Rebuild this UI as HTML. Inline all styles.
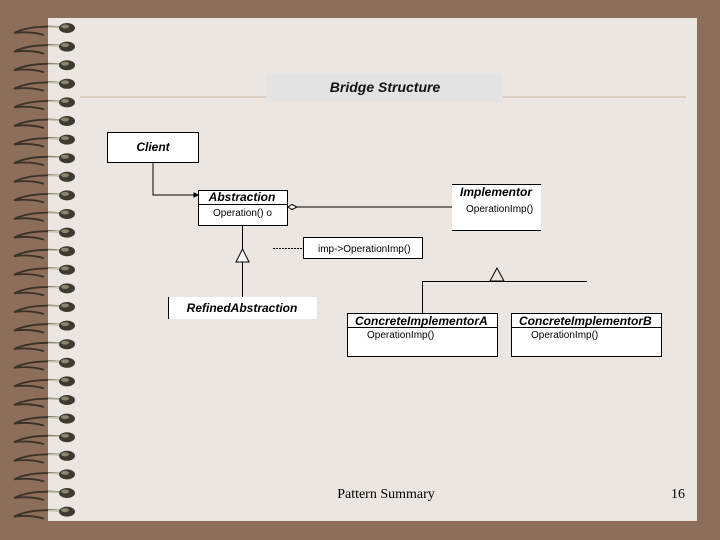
<!DOCTYPE html>
<html><head><style>
html,body{margin:0;padding:0;width:720px;height:540px;overflow:hidden;background:#8d6e5b;}
</style></head><body>
<svg width="720" height="540" xmlns="http://www.w3.org/2000/svg" style="position:absolute;left:0;top:0">
<rect x="0" y="0" width="720" height="540" fill="#8d6e5b"/>
<rect x="48" y="18" width="649" height="503" fill="#ebe6e1"/>
<g id="rings">
</g>
<rect x="266" y="73" width="237" height="29" fill="#e3e3e3"/>
<line x1="80" y1="97" x2="266" y2="97" stroke="#c9b89a" stroke-width="1"/>
<line x1="503" y1="97" x2="686" y2="97" stroke="#c9b89a" stroke-width="1"/>
<text x="385" y="92" font-family="Liberation Sans, sans-serif" font-size="14" font-weight="bold" font-style="italic" text-anchor="middle" fill="#111">Bridge Structure</text>

<g stroke="#000" stroke-width="1" fill="none" font-family="Liberation Sans, sans-serif">
<rect x="107.5" y="132.5" width="91" height="30" fill="#fff"/>
<text x="153" y="151" font-size="12" font-weight="bold" font-style="italic" text-anchor="middle" fill="#000" stroke="none">Client</text>
<polyline points="153,162 153,195 198,195"/>
<path d="M194,193 L198,195 L194,197Z" fill="#000"/>
<rect x="198.5" y="190.5" width="89" height="35" fill="#fff"/>
<line x1="198" y1="204.5" x2="288" y2="204.5"/>
<text x="242" y="201" font-size="12" font-weight="bold" font-style="italic" text-anchor="middle" fill="#000" stroke="none">Abstraction</text>
<text x="213" y="216" font-size="10" fill="#000" stroke="none">Operation() o</text>
<path d="M288,207 L292,204.5 L297,207 L292,209.5Z" fill="#fff"/>
<line x1="297" y1="207" x2="452" y2="207"/>
<rect x="452" y="184" width="89" height="46" fill="#fff" stroke="none"/>
<line x1="452" y1="184.5" x2="541" y2="184.5"/>
<line x1="452" y1="230.5" x2="541" y2="230.5"/>
<text x="460" y="196" font-size="12" font-weight="bold" font-style="italic" fill="#000" stroke="none">Implementor</text>
<text x="466" y="212" font-size="10" fill="#000" stroke="none">OperationImp()</text>
<line x1="242.5" y1="226" x2="242.5" y2="249"/>
<path d="M242.5,249 L236,262 L249,262Z" fill="#fff"/>
<line x1="242.5" y1="262" x2="242.5" y2="297"/>
<rect x="168" y="297" width="149" height="22" fill="#fff" stroke="none"/>
<line x1="168.5" y1="297" x2="168.5" y2="319"/>
<text x="242" y="312" font-size="12" font-weight="bold" font-style="italic" text-anchor="middle" fill="#000" stroke="none">RefinedAbstraction</text>
<line x1="273" y1="248.5" x2="303" y2="248.5" stroke-dasharray="2,1"/>
<rect x="303.5" y="237.5" width="119" height="21" fill="#fff"/>
<text x="318" y="252" font-size="10" fill="#000" stroke="none">imp-&gt;OperationImp()</text>
<path d="M497,268 L490,281 L504,281Z" fill="none"/>
<line x1="422" y1="281.5" x2="587" y2="281.5"/>
<line x1="422.5" y1="281" x2="422.5" y2="313"/>
<rect x="347.5" y="313.5" width="150" height="43" fill="#fff"/>
<line x1="347" y1="327.5" x2="497" y2="327.5"/>
<text x="355" y="325" font-size="12" font-weight="bold" font-style="italic" fill="#000" stroke="none">ConcreteImplementorA</text>
<text x="367" y="338" font-size="10" fill="#000" stroke="none">OperationImp()</text>
<rect x="511.5" y="313.5" width="150" height="43" fill="#fff"/>
<line x1="511" y1="327.5" x2="661" y2="327.5"/>
<text x="519" y="325" font-size="12" font-weight="bold" font-style="italic" fill="#000" stroke="none">ConcreteImplementorB</text>
<text x="531" y="338" font-size="10" fill="#000" stroke="none">OperationImp()</text>
</g>
<text x="386" y="498" font-family="Liberation Serif, serif" font-size="14" text-anchor="middle" fill="#000">Pattern Summary</text>
<text x="685" y="498" font-family="Liberation Serif, serif" font-size="14" text-anchor="end" fill="#000">16</text>
</svg>
<script>
var g=document.getElementById('rings'),s='';
for(var i=0;i<27;i++){var y=28+i*18.6;
s+='<path d="M60,'+(y-1)+' Q30,'+(y-3)+' 14,'+(y+5)+' Q30,'+(y+3)+' 44,'+(y+7)+'" stroke="#3a3128" stroke-width="1.8" fill="none"/>';
s+='<path d="M48,'+(y-1)+' L60,'+(y-1)+'" stroke="#cfc6b6" stroke-width="1.5"/>';
s+='<ellipse cx="67" cy="'+y+'" rx="8" ry="5" fill="#3d3a2e"/>';
s+='<ellipse cx="65" cy="'+(y-1.5)+'" rx="4" ry="2" fill="#8a8470"/>';}
g.innerHTML=s;
</script>
</body></html>
